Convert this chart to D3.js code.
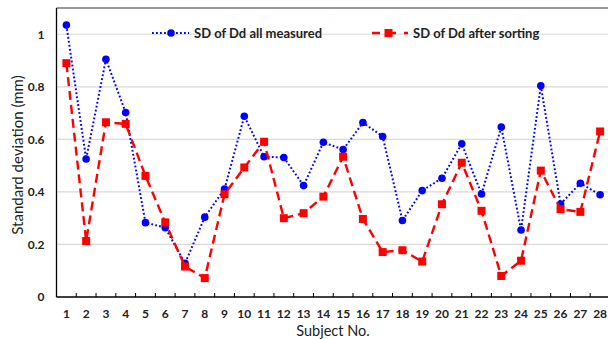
<!DOCTYPE html>
<html>
<head>
<meta charset="utf-8">
<script src="https://cdn.jsdelivr.net/npm/d3@7"></script>
<style>
  body { margin: 0; background: #fff; }
  #chart { width: 608px; height: 339px; }
  text { font-family: Lato, "Open Sans", sans-serif; }
</style>
</head>
<body>
<div id="chart"></div>
<script>
// data
const subjects = d3.range(1, 29).map(String);
const sdAll = [1.035, 0.525, 0.905, 0.702, 0.283, 0.264, 0.128, 0.304, 0.411, 0.688,
  0.534, 0.531, 0.424, 0.589, 0.561, 0.664, 0.611, 0.291, 0.405, 0.452,
  0.583, 0.392, 0.647, 0.255, 0.804, 0.354, 0.433, 0.389];
const sdSorted = [0.89, 0.213, 0.665, 0.659, 0.461, 0.284, 0.116, 0.072, 0.391, 0.493,
  0.591, 0.3, 0.319, 0.382, 0.534, 0.297, 0.171, 0.178, 0.135, 0.353,
  0.511, 0.328, 0.08, 0.138, 0.481, 0.334, 0.324, 0.63];
const yTicks = [0, 0.2, 0.4, 0.6, 0.8, 1];
const seriesNames = ['SD of Dd all measured', 'SD of Dd after sorting'];

const width = 608, height = 339;
const margin = { top: 8, right: -2, bottom: 42, left: 56.5 };

const svg = d3.select('#chart').append('svg')
  .attr('width', width).attr('height', height);

const x = d3.scaleBand()
  .domain(subjects)
  .range([margin.left, width - margin.right]);

const y = d3.scaleLinear()
  .domain([0, 1.1])
  .range([height - margin.bottom, margin.top]);

// gridlines
svg.append('g')
  .selectAll('line')
  .data(yTicks.filter(d => d > 0))
  .enter().append('line')
  .attr('x1', margin.left).attr('x2', width)
  .attr('y1', d => y(d)).attr('y2', d => y(d))
  .attr('stroke', '#d9d9d9').attr('stroke-width', 1.2);

// top frame line
svg.append('line')
  .attr('x1', margin.left).attr('x2', width)
  .attr('y1', margin.top).attr('y2', margin.top)
  .attr('stroke', '#333').attr('stroke-width', 1);

// y axis
const yAxis = svg.append('g')
  .attr('transform', `translate(${margin.left},0)`)
  .call(d3.axisLeft(y).tickValues(yTicks).tickSize(0).tickPadding(12).tickFormat(d3.format('~g')));
yAxis.select('.domain').attr('stroke', '#000').attr('stroke-width', 1.3)
  .attr('d', `M0,${y(0)}V${margin.top}`);
yAxis.selectAll('text').attr('font-size', 12).attr('font-weight', 'bold').attr('fill', '#222')
  .attr('font-family', 'Lato, sans-serif');

// x axis, ticks between categories pointing inward
const xAxisG = svg.append('g')
  .attr('transform', `translate(0,${y(0)})`);
xAxisG.append('line')
  .attr('x1', margin.left).attr('x2', width)
  .attr('stroke', '#000').attr('stroke-width', 1.3);
xAxisG.selectAll('.tick-mark')
  .data(subjects.slice(1))
  .enter().append('line')
  .attr('class', 'tick-mark')
  .attr('x1', d => x(d)).attr('x2', d => x(d))
  .attr('y1', 0).attr('y2', -4)
  .attr('stroke', '#000').attr('stroke-width', 1);
xAxisG.selectAll('.tick-label')
  .data(subjects)
  .enter().append('text')
  .attr('class', 'tick-label')
  .attr('x', d => x(d) + x.bandwidth() / 2)
  .attr('y', 21)
  .attr('text-anchor', 'middle')
  .attr('font-size', 12).attr('font-weight', 'bold').attr('fill', '#222')
  .text(d => d);

// axis titles
svg.append('text')
  .attr('x', 333).attr('y', 335.5)
  .attr('text-anchor', 'middle')
  .attr('font-size', 14.5).attr('fill', '#222')
  .text('Subject No.');
svg.append('text')
  .attr('transform', `translate(23,155) rotate(-90)`)
  .attr('text-anchor', 'middle')
  .attr('font-size', 15).attr('fill', '#222')
  .text('Standard deviation (mm)');

const cx = (d, i) => x(subjects[i]) + x.bandwidth() / 2;
const line = d3.line().x((d, i) => cx(d, i)).y(d => y(d));

// series 1: blue dotted with circles
svg.append('path')
  .datum(sdAll)
  .attr('d', line)
  .attr('fill', 'none')
  .attr('stroke', '#0000ff').attr('stroke-width', 2)
  .attr('stroke-dasharray', '1.8,2.2');
svg.append('g').selectAll('circle')
  .data(sdAll)
  .enter().append('circle')
  .attr('cx', cx).attr('cy', d => y(d)).attr('r', 3.8)
  .attr('fill', '#0000ff');

// series 2: red dashed with squares
svg.append('path')
  .datum(sdSorted)
  .attr('d', line)
  .attr('fill', 'none')
  .attr('stroke', '#ff0000').attr('stroke-width', 2.4)
  .attr('stroke-dasharray', '9,5');
svg.append('g').selectAll('rect')
  .data(sdSorted)
  .enter().append('rect')
  .attr('x', (d, i) => cx(d, i) - 4).attr('y', d => y(d) - 4)
  .attr('width', 8).attr('height', 8)
  .attr('fill', '#ff0000');

// legend
const legendY = 33;
const leg1 = svg.append('g');
leg1.append('line')
  .attr('x1', 152).attr('x2', 189).attr('y1', legendY).attr('y2', legendY)
  .attr('stroke', '#0000ff').attr('stroke-width', 2).attr('stroke-dasharray', '1.8,2.2');
leg1.append('circle').attr('cx', 171).attr('cy', legendY).attr('r', 3.8).attr('fill', '#0000ff');
leg1.append('text').attr('x', 194).attr('y', legendY + 4.5)
  .attr('font-size', 13).attr('font-weight', 'bold').attr('fill', '#222')
  .text(seriesNames[0]);

const leg2 = svg.append('g');
leg2.append('line')
  .attr('x1', 372).attr('x2', 408).attr('y1', legendY).attr('y2', legendY)
  .attr('stroke', '#ff0000').attr('stroke-width', 2.4).attr('stroke-dasharray', '8,8');
leg2.append('rect').attr('x', 384.5).attr('y', legendY - 4).attr('width', 8).attr('height', 8)
  .attr('fill', '#ff0000');
leg2.append('text').attr('x', 413).attr('y', legendY + 4.5)
  .attr('font-size', 13).attr('font-weight', 'bold').attr('fill', '#222')
  .text(seriesNames[1]);
</script>
</body>
</html>
